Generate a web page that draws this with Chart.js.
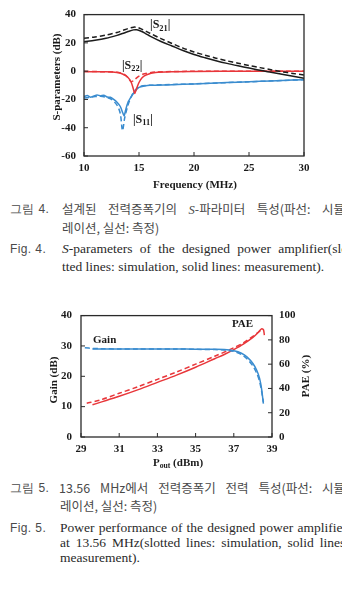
<!DOCTYPE html>
<html>
<head>
<meta charset="utf-8">
<script src="https://cdn.jsdelivr.net/npm/chart.js@4.4.1/dist/chart.umd.min.js"></script>
<style>
  html, body { margin: 0; padding: 0; background: #fff; width: 342px; height: 593px; overflow: hidden; position: relative; }
  canvas { position: absolute; left: 0; }
  .cap { position: absolute; white-space: nowrap; line-height: 16px; color: #3a3a3a; }
  .ko { font-family: "Noto Sans CJK KR", sans-serif; font-size: 12.5px; color: #4a4a4a; }
  .en { font-family: "Liberation Serif", serif; font-size: 13.5px; color: #2a2a2a; }
  .sans { font-family: "Liberation Sans", sans-serif; font-size: 12px; color: #4a4a4a; letter-spacing: 0.4px; }
  .sym { font-family: "Liberation Serif", serif; font-style: italic; }
</style>
</head>
<body>
<canvas id="sparamChart" width="342" height="195" style="top:0px"></canvas>
<canvas id="powerChart" width="342" height="175" style="top:300px"></canvas>

<!-- Fig. 4 caption -->
<div class="cap sans" style="left:10px; top:201px">그림 4.</div>
<div class="cap ko" data-w="283" style="left:62px; top:201px">설계된 전력증폭기의 <span class="sym">S</span>-파라미터 특성(파선: 시뮬</div>
<div class="cap ko" style="left:62px; top:220px">레이션, 실선: 측정)</div>
<div class="cap sans" style="left:10px; top:241px">Fig. 4.</div>
<div class="cap en" data-w="286" style="left:62px; top:241px"><i>S</i>-parameters of the designed power amplifier(slo</div>
<div class="cap en" style="left:62px; top:259px">tted lines: simulation, solid lines: measurement).</div>

<!-- Fig. 5 caption -->
<div class="cap sans" style="left:10px; top:480px">그림 5.</div>
<div class="cap ko" data-w="286" style="left:59px; top:480px">13.56 MHz에서 전력증폭기 전력 특성(파선: 시뮬</div>
<div class="cap ko" style="left:60px; top:498px">레이션, 실선: 측정)</div>
<div class="cap sans" style="left:10px; top:520px">Fig. 5.</div>
<div class="cap en" data-w="287" style="left:60px; top:520px">Power performance of the designed power amplifier</div>
<div class="cap en" data-w="289" style="left:60px; top:535px">at 13.56 MHz(slotted lines: simulation, solid lines:</div>
<div class="cap en" style="left:60px; top:550px">measurement).</div>

<script>
// ---- Fig. 4 : S-parameters vs frequency (MHz) ----
const s21MeasFreq = [10, 11, 12, 13, 13.5, 14, 14.5, 14.8, 15.2, 15.6, 16, 17, 18, 19, 20, 21, 22, 23, 24, 25, 26, 27, 28, 29, 30];
const s21Meas     = [20.8, 21.8, 23.2, 25.3, 26.6, 28.0, 29.2, 29.3, 28.2, 26.6, 24.8, 21.0, 17.8, 14.6, 11.8, 9.5, 7.4, 5.5, 3.8, 2.2, 0.6, -0.8, -2.2, -3.6, -5.0];
const s21SimFreq  = [10, 11, 12, 13, 13.5, 14, 14.5, 14.8, 15.2, 15.6, 16, 17, 18, 19, 20, 21, 22, 23, 24, 25, 26, 27, 28, 29, 30];
const s21Sim      = [23.3, 24.2, 25.5, 27.4, 28.7, 30.1, 31.1, 31.0, 29.9, 28.4, 26.8, 23.0, 19.6, 16.3, 13.6, 11.3, 9.2, 7.3, 5.6, 4.0, 2.5, 1.0, -0.4, -1.6, -2.8];

const s22MeasFreq = [10, 12, 13, 13.5, 14, 14.3, 14.5, 14.6, 14.75, 15, 15.3, 15.7, 16.5, 18, 20, 25, 30];
const s22Meas     = [-0.3, -0.5, -1.0, -2.0, -4.5, -8.0, -13.0, -15.8, -13.0, -8.0, -4.5, -2.5, -1.0, -0.4, -0.2, 0, 0];
const s22SimFreq  = [10, 13, 13.7, 14, 14.3, 14.6, 15, 15.5, 16.5, 20, 30];
const s22Sim      = [-0.2, -0.8, -2.5, -4.5, -7.5, -6.0, -3.5, -1.8, -0.6, -0.1, 0];

const s11MeasFreq = [10, 10.3, 10.6, 10.9, 11.2, 11.5, 11.8, 12.1, 12.4, 12.7, 13, 13.3, 13.5, 13.65, 13.8, 14, 14.3, 14.6, 15, 15.5, 16, 18, 20, 22, 24, 26, 28, 30];
const s11Meas     = [-18.0, -17.2, -18.5, -17.5, -16.8, -17.5, -17.0, -18.3, -18.5, -20.0, -22.0, -25.0, -29.0, -31.5, -27.0, -22.0, -18.0, -14.5, -11.5, -10.5, -10.0, -9.6, -9.0, -8.4, -7.8, -7.2, -6.6, -6.0];
const s11SimFreq  = [10, 10.5, 11, 11.5, 12, 12.5, 13, 13.3, 13.5, 13.7, 14, 14.3, 14.6, 15, 16, 20, 25, 30];
const s11Sim      = [-19.0, -18.5, -18.0, -17.8, -18.5, -20.0, -24.0, -30.0, -42.0, -33.0, -24.0, -18.0, -14.0, -11.0, -10.0, -9.0, -7.5, -6.0];

// ---- Fig. 5 : gain / PAE vs Pout (dBm) ----
const gainMeasPout = [29.6, 30, 31, 32, 33, 34, 35, 36, 36.5, 37, 37.4, 37.7, 38, 38.2, 38.35, 38.45, 38.55];
const gainMeas     = [29.0, 29.0, 29.0, 29.0, 29.0, 29.0, 28.95, 28.9, 28.8, 28.4, 27.6, 26.3, 24.2, 22.0, 19.3, 16.0, 11.0];
const gainSimPout  = [29.2, 29.6, 30, 31, 32, 33, 34, 35, 36, 36.5, 37, 37.4, 37.7, 38, 38.2, 38.35, 38.45, 38.55];
const gainSim      = [29.4, 29.2, 29.1, 29.0, 29.0, 29.0, 29.0, 28.9, 28.8, 28.7, 28.2, 27.2, 25.7, 23.4, 21.0, 18.3, 15.3, 11.5];

const paeMeasPout  = [29.6, 30, 31, 32, 33, 34, 35, 36, 36.5, 37, 37.5, 38, 38.3, 38.45, 38.55, 38.6];
const paeMeas      = [26.5, 28.5, 33.5, 39.0, 45.0, 51.0, 57.5, 64.5, 68.0, 72.0, 76.5, 82.0, 86.5, 89.0, 88.5, 84.0];
const paeSimPout   = [29.3, 30, 31, 32, 33, 34, 35, 36, 37, 37.5, 38, 38.3, 38.45];
const paeSim       = [27.8, 30.5, 36.0, 41.5, 47.5, 53.5, 60.0, 66.5, 73.5, 77.5, 83.0, 86.5, 88.5];

const BLACK = '#1c1c1c';
const RED   = '#e8363a';
const BLUE  = '#3a8ccf';
const AXIS_FONT = 'bold 11px "Liberation Serif", serif';

// stretch the word gaps of a caption line so it spans its given width (justified look)
document.querySelectorAll('[data-w]').forEach(el => {
    const target = +el.dataset.w;
    const nat = el.getBoundingClientRect().width;
    const spaces = (el.textContent.match(/ /g) || []).length;
    if (spaces) el.style.wordSpacing = ((target - nat) / spaces) + 'px';
});

function pts(xs, ys){ return xs.map((x, i) => ({x: x, y: ys[i]})); }

function line(label, xs, ys, color, dashed, axis){
    return {
        label: label,
        data: pts(xs, ys),
        borderColor: color,
        borderWidth: 1.5,
        borderDash: dashed ? [5, 3] : [],
        pointRadius: 0,
        tension: 0.3,
        fill: false,
        yAxisID: axis || 'y'
    };
}

// draws text with a subscript part: pre + sub + post
function drawSub(ctx, x, y, pre, sub, post, size){
    ctx.textBaseline = 'middle';
    ctx.textAlign = 'left';
    ctx.font = 'bold ' + size + 'px "Liberation Serif", serif';
    ctx.fillText(pre, x, y);
    x += ctx.measureText(pre).width;
    ctx.font = 'bold ' + (size * 0.7) + 'px "Liberation Serif", serif';
    ctx.fillText(sub, x, y + size * 0.3);
    x += ctx.measureText(sub).width;
    ctx.font = 'bold ' + size + 'px "Liberation Serif", serif';
    ctx.fillText(post, x, y);
    return x + ctx.measureText(post).width;
}

// frame, inward tick marks, axis titles and curve labels
const decor = {
    id: 'decor',
    afterDraw(chart, args, opts){
        const {ctx, chartArea: a} = chart;
        ctx.save();
        ctx.strokeStyle = '#2a2a2a';
        ctx.lineWidth = 1.3;
        ctx.strokeRect(a.left, a.top, a.right - a.left, a.bottom - a.top);

        // inward ticks
        ctx.lineWidth = 1;
        (opts.ticks || []).forEach(id => {
            const sc = chart.scales[id];
            sc.ticks.forEach(t => {
                const p = sc.getPixelForValue(t.value);
                ctx.beginPath();
                if (sc.isHorizontal()) { ctx.moveTo(p, a.bottom); ctx.lineTo(p, a.bottom - 4); }
                else if (sc.position === 'left') { ctx.moveTo(a.left, p); ctx.lineTo(a.left + 4, p); }
                else { ctx.moveTo(a.right, p); ctx.lineTo(a.right - 4, p); }
                ctx.stroke();
            });
        });

        // axis titles
        ctx.fillStyle = '#1a1a1a';
        (opts.titles || []).forEach(t => {
            ctx.save();
            ctx.translate(t.x, t.y);
            if (t.rotate) ctx.rotate(-Math.PI / 2);
            if (t.sub) {
                ctx.font = AXIS_FONT;
                const w1 = ctx.measureText(t.pre).width;
                ctx.font = 'bold 7.7px "Liberation Serif", serif';
                const w2 = ctx.measureText(t.sub).width;
                ctx.font = AXIS_FONT;
                const w3 = ctx.measureText(t.post).width;
                drawSub(ctx, -(w1 + w2 + w3) / 2, 0, t.pre, t.sub, t.post, 11);
            } else {
                ctx.font = AXIS_FONT;
                ctx.textAlign = 'center';
                ctx.textBaseline = 'middle';
                ctx.fillText(t.text, 0, 0);
            }
            ctx.restore();
        });

        // curve labels, placed in data coordinates
        (opts.labels || []).forEach(l => {
            const x = chart.scales.x.getPixelForValue(l.x);
            const y = chart.scales[l.axis || 'y'].getPixelForValue(l.y);
            if (l.sub) drawSub(ctx, x, y, l.pre, l.sub, l.post, 12);
            else { ctx.font = 'bold 11px "Liberation Serif", serif'; ctx.textAlign = 'left'; ctx.textBaseline = 'middle'; ctx.fillText(l.text, x, y); }
        });
        ctx.restore();
    }
};

function tickFont(){ return { family: '"Liberation Serif", serif', size: 11, weight: 'bold' }; }

function createSparamChart(){
    new Chart(document.getElementById('sparamChart'), {
        type: 'line',
        data: {
            datasets: [
                line('S21 sim', s21SimFreq, s21Sim, BLACK, true),
                line('S21 meas', s21MeasFreq, s21Meas, BLACK, false),
                line('S22 sim', s22SimFreq, s22Sim, RED, true),
                line('S22 meas', s22MeasFreq, s22Meas, RED, false),
                line('S11 sim', s11SimFreq, s11Sim, BLUE, true),
                Object.assign(line('S11 meas', s11MeasFreq, s11Meas, BLUE, false), {tension: 0.2})
            ]
        },
        options: {
            responsive: false,
            animation: false,
            layout: { padding: { top: 12, right: 38, left: 0, bottom: 0 } },
            scales: {
                x: {
                    type: 'linear', min: 10, max: 30,
                    ticks: { stepSize: 5, padding: 6, color: '#1a1a1a', font: tickFont() },
                    grid: { drawOnChartArea: false, drawTicks: false },
                    border: { display: false },
                    afterFit: s => { s.height = 39; }
                },
                y: {
                    min: -60, max: 40,
                    ticks: { stepSize: 20, padding: 8, color: '#1a1a1a', font: tickFont() },
                    grid: { drawOnChartArea: false, drawTicks: false },
                    border: { display: false },
                    afterFit: s => { s.width = 84; }
                }
            },
            plugins: {
                legend: { display: false },
                tooltip: { enabled: false },
                decor: {
                    ticks: ['x', 'y'],
                    titles: [
                        { text: 'S-parameters (dB)', x: 57, y: 77, rotate: true },
                        { text: 'Frequency (MHz)', x: 195, y: 185 }
                    ],
                    labels: [
                        { x: 16.0, y: 32.4, pre: '|S', sub: '21', post: '|' },
                        { x: 13.45, y: 3.9, pre: '|S', sub: '22', post: '|' },
                        { x: 14.45, y: -34.3, pre: '|S', sub: '11', post: '|' }
                    ]
                }
            }
        },
        plugins: [decor]
    });
}

function createPowerChart(){
    new Chart(document.getElementById('powerChart'), {
        type: 'line',
        data: {
            datasets: [
                line('Gain sim', gainSimPout, gainSim, BLUE, true, 'y'),
                line('Gain meas', gainMeasPout, gainMeas, BLUE, false, 'y'),
                line('PAE sim', paeSimPout, paeSim, RED, true, 'y1'),
                line('PAE meas', paeMeasPout, paeMeas, RED, false, 'y1')
            ]
        },
        options: {
            responsive: false,
            animation: false,
            layout: { padding: { top: 12, right: 0, left: 0, bottom: 0 } },
            scales: {
                x: {
                    type: 'linear', min: 29, max: 39,
                    ticks: { stepSize: 2, padding: 6, color: '#1a1a1a', font: tickFont() },
                    grid: { drawOnChartArea: false, drawTicks: false },
                    border: { display: false },
                    afterFit: s => { s.height = 38; }
                },
                y: {
                    position: 'left', min: 0, max: 40,
                    ticks: { stepSize: 10, padding: 9, color: '#1a1a1a', font: tickFont() },
                    grid: { drawOnChartArea: false, drawTicks: false },
                    border: { display: false },
                    afterFit: s => { s.width = 81; }
                },
                y1: {
                    position: 'right', min: 0, max: 100,
                    ticks: { stepSize: 20, padding: 7, color: '#1a1a1a', font: tickFont() },
                    grid: { drawOnChartArea: false, drawTicks: false },
                    border: { display: false },
                    afterFit: s => { s.width = 70; }
                }
            },
            plugins: {
                legend: { display: false },
                tooltip: { enabled: false },
                decor: {
                    ticks: ['x', 'y', 'y1'],
                    titles: [
                        { text: 'Gain (dB)', x: 54, y: 80, rotate: true },
                        { text: 'PAE (%)', x: 306, y: 76, rotate: true },
                        { x: 178, y: 163, sub: 'out', pre: 'P', post: ' (dBm)' }
                    ],
                    labels: [
                        { x: 29.63, y: 32, text: 'Gain' },
                        { x: 36.9, y: 37.1, text: 'PAE' }
                    ]
                }
            }
        },
        plugins: [decor]
    });
}

createSparamChart()
createPowerChart()
</script>
</body>
</html>
